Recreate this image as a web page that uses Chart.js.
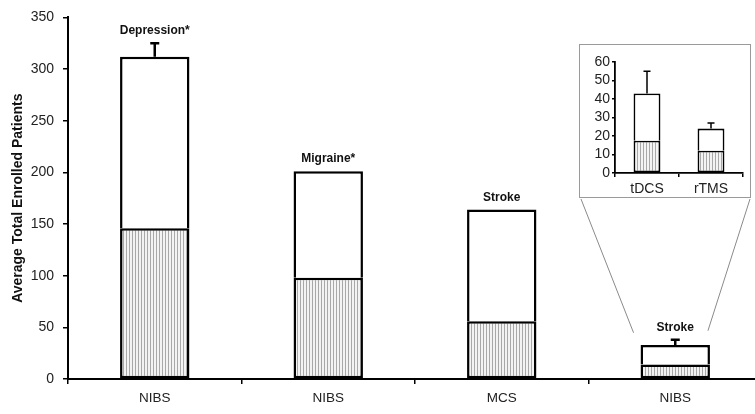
<!DOCTYPE html>
<html>
<head>
<meta charset="utf-8">
<script src="https://cdn.jsdelivr.net/npm/chart.js@4"></script>
<style>
  html, body { margin: 0; padding: 0; background: #fff; overflow: hidden; }
  #wrap { position: relative; width: 755px; height: 414px; overflow: hidden; }
  #main { position: absolute; left: 0; top: 0; }
  #insetBox { position: absolute; left: 579px; top: 44px; width: 170px; height: 152px;
              border: 1px solid #9a9a9a; background: #fff; }
  #inset { position: absolute; left: 0; top: 0; }
</style>
</head>
<body>
<div id="wrap">
  <canvas id="main" width="765" height="414"></canvas>
  <div id="insetBox"><canvas id="inset" width="170" height="152"></canvas></div>
</div>
<script>
// main chart data
const categories = ["NIBS", "NIBS", "MCS", "NIBS"];
const conditionLabels = ["Depression*", "Migraine*", "Stroke", "Stroke"];
const hatchedValues = [146, 98, 56, 14];
const totalValues = [312, 201, 164, 33];
const upperErrors = [13, null, null, 5];
const yTicksMain = [0, 50, 100, 150, 200, 250, 300, 350];

// inset data
const insetCategories = ["tDCS", "rTMS"];
const insetHatched = [17.5, 12];
const insetTotal = [43, 24];
const insetErrors = [12, 3];
const yTicksInset = [0, 10, 20, 30, 40, 50, 60];

const fontFamily = "'Liberation Sans', Arial, sans-serif";

function makeHatch() {
    const c = document.createElement("canvas");
    c.width = 3;
    c.height = 4;
    const g = c.getContext("2d");
    g.fillStyle = "#f3f3f3";
    g.fillRect(0, 0, 3, 4);
    g.fillStyle = "#a8a8a8";
    g.fillRect(0, 0, 1, 4);
    return g.createPattern(c, "repeat");
}
const hatch = makeHatch();

function remainder(total, part) {
    return total.map((t, i) => t - part[i]);
}

// error bars drawn on top of the upper segment
const errorBarPlugin = {
    id: "errorBars",
    afterDatasetsDraw(chart, args, opts) {
        const ctx = chart.ctx;
        const meta = chart.getDatasetMeta(1);
        const yScale = chart.scales.y;
        ctx.save();
        ctx.strokeStyle = "#000";
        ctx.lineWidth = opts.lineWidth;
        meta.data.forEach((bar, i) => {
            const err = opts.errors[i];
            if (err == null) return;
            const top = yScale.getPixelForValue(opts.totals[i] + err);
            ctx.beginPath();
            ctx.moveTo(bar.x, bar.y);
            ctx.lineTo(bar.x, top);
            ctx.moveTo(bar.x - opts.cap / 2, top);
            ctx.lineTo(bar.x + opts.cap / 2, top);
            ctx.stroke();
        });
        ctx.restore();
    }
};

// condition names above the bars + zoom lines to the inset
const mainExtras = {
    id: "mainExtras",
    afterDraw(chart) {
        const ctx = chart.ctx;
        const meta = chart.getDatasetMeta(1);
        const yScale = chart.scales.y;
        ctx.save();
        ctx.fillStyle = "#111";
        ctx.font = "bold 12px " + fontFamily;
        ctx.textAlign = "center";
        ctx.textBaseline = "alphabetic";
        meta.data.forEach((bar, i) => {
            const top = yScale.getPixelForValue(totalValues[i] + (upperErrors[i] || 0));
            ctx.fillText(conditionLabels[i], bar.x, top - 9);
        });

        // lines from the last bar up to the inset box
        const last = meta.data[meta.data.length - 1];
        const lastTop = yScale.getPixelForValue(totalValues[3] + (upperErrors[3] || 0));
        const box = document.getElementById("insetBox").getBoundingClientRect();
        ctx.strokeStyle = "#8a8a8a";
        ctx.lineWidth = 1;
        ctx.beginPath();
        ctx.moveTo(box.left + 2, box.bottom + 1);
        ctx.lineTo(last.x - last.width / 2 - 7, lastTop - 7);
        ctx.moveTo(box.right - 1, box.bottom + 1);
        ctx.lineTo(last.x + last.width / 2 - 2, lastTop - 9);
        ctx.stroke();
        ctx.restore();
    }
};

new Chart(document.getElementById("main"), {
    type: "bar",
    data: {
        labels: categories,
        datasets: [
            {
                data: hatchedValues,
                backgroundColor: hatch,
                borderColor: "#000",
                borderWidth: 2.5,
                borderSkipped: false
            },
            {
                data: remainder(totalValues, hatchedValues),
                backgroundColor: "#fff",
                borderColor: "#000",
                borderWidth: 2.5,
                borderSkipped: "bottom"
            }
        ]
    },
    options: {
        responsive: false,
        animation: false,
        layout: { padding: { top: 16, right: 3, left: 0, bottom: 0 } },
        datasets: { bar: { barPercentage: 0.4, categoryPercentage: 1 } },
        plugins: {
            legend: { display: false },
            tooltip: { enabled: false },
            errorBars: { errors: upperErrors, totals: totalValues, cap: 9, lineWidth: 2.5 }
        },
        scales: {
            x: {
                stacked: true,
                afterFit(scale) { scale.height = 35; },
                grid: { offset: true, drawOnChartArea: false, tickLength: 5, color: "#000", lineWidth: 1.5 },
                border: { color: "#000", width: 2 },
                ticks: { color: "#222", font: { family: fontFamily, size: 13.5 }, padding: 6 }
            },
            y: {
                stacked: true,
                min: 0,
                max: 350,
                afterFit(scale) { scale.width = 68; },
                afterBuildTicks(scale) { scale.ticks = yTicksMain.map(v => ({ value: v })); },
                grid: { drawOnChartArea: false, tickLength: 5, color: "#000", lineWidth: 1.5 },
                border: { color: "#000", width: 2 },
                ticks: { color: "#222", font: { family: fontFamily, size: 14 }, padding: 9, autoSkip: false },
                title: {
                    display: true,
                    text: "Average Total Enrolled Patients",
                    color: "#111",
                    font: { family: fontFamily, size: 14, weight: "bold" },
                    padding: { top: 10, bottom: 0 }
                }
            }
        }
    },
    plugins: [errorBarPlugin, mainExtras]
});

new Chart(document.getElementById("inset"), {
    type: "bar",
    data: {
        labels: insetCategories,
        datasets: [
            {
                data: insetHatched,
                backgroundColor: hatch,
                borderColor: "#000",
                borderWidth: 1.8,
                borderSkipped: false
            },
            {
                data: remainder(insetTotal, insetHatched),
                backgroundColor: "#fff",
                borderColor: "#000",
                borderWidth: 1.8,
                borderSkipped: "bottom"
            }
        ]
    },
    options: {
        responsive: false,
        animation: false,
        layout: { padding: { top: 17, right: 7, left: 0, bottom: 0 } },
        datasets: { bar: { barPercentage: 0.42, categoryPercentage: 1 } },
        plugins: {
            legend: { display: false },
            tooltip: { enabled: false },
            errorBars: { errors: insetErrors, totals: insetTotal, cap: 7, lineWidth: 1.5 }
        },
        scales: {
            x: {
                stacked: true,
                afterFit(scale) { scale.height = 24; },
                grid: { offset: true, drawOnChartArea: false, tickLength: 4, color: "#000", lineWidth: 1.5 },
                border: { color: "#000", width: 1.8 },
                ticks: { color: "#222", font: { family: fontFamily, size: 14 }, padding: 4 }
            },
            y: {
                stacked: true,
                min: 0,
                max: 60,
                afterFit(scale) { scale.width = 35; },
                afterBuildTicks(scale) { scale.ticks = yTicksInset.map(v => ({ value: v })); },
                grid: { drawOnChartArea: false, tickLength: 3, color: "#000", lineWidth: 1.5 },
                border: { color: "#000", width: 1.8 },
                ticks: { color: "#222", font: { family: fontFamily, size: 14 }, padding: 2, autoSkip: false }
            }
        }
    },
    plugins: [errorBarPlugin]
});
</script>
</body>
</html>
